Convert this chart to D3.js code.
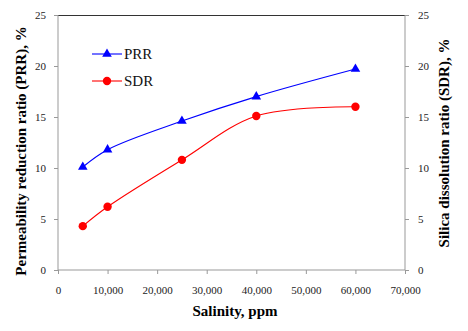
<!DOCTYPE html>
<html>
<head>
<meta charset="utf-8">
<script src="https://cdn.jsdelivr.net/npm/d3@7"></script>
<style>
  body { margin: 0; background: #fff; }
</style>
</head>
<body>
<div id="canvas"></div>
<script>
"use strict";

/**** DATA ****/
let salinity = [5000, 10000, 25000, 40000, 60000];
let prrValues = [10.1, 11.8, 14.6, 17.0, 19.7];
let sdrValues = [4.3, 6.2, 10.8, 15.1, 16.0];
let xTicks = [0, 10000, 20000, 30000, 40000, 50000, 60000, 70000];
let yTicks = [0, 5, 10, 15, 20, 25];

/**** LAYOUT ****/
let svgWidth = 468;
let svgHeight = 331;
let leftMargin = 58;
let rightEdge = 405;
let topMargin = 15;
let bottomEdge = 270;
let serif = "'Liberation Serif', 'Times New Roman', serif";

let svg = d3.select("#canvas")
    .append("svg")
    .attr("width", svgWidth)
    .attr("height", svgHeight)
    .style("font-family", serif);

/**** SCALES ****/
let xScale = d3.scaleLinear().domain([0, 70000]).range([leftMargin, rightEdge]);
let yScale = d3.scaleLinear().domain([0, 25]).range([bottomEdge, topMargin]);

/**** FRAME ****/
svg.append("line")
    .attr("x1", leftMargin).attr("x2", rightEdge)
    .attr("y1", topMargin + 0.5).attr("y2", topMargin + 0.5)
    .attr("stroke", "#333");

/**** AXES ****/
let fmt = d3.format(",");

let xAxis = svg.append("g")
    .attr("transform", `translate(0,${bottomEdge})`)
    .call(d3.axisBottom(xScale).tickValues(xTicks).tickFormat(fmt).tickSize(4).tickPadding(12));

let leftAxis = svg.append("g")
    .attr("transform", `translate(${leftMargin},0)`)
    .call(d3.axisLeft(yScale).tickValues(yTicks).tickSize(4).tickPadding(8));

let rightAxis = svg.append("g")
    .attr("transform", `translate(${rightEdge},0)`)
    .call(d3.axisRight(yScale).tickValues(yTicks).tickSize(4).tickPadding(9));

[xAxis, leftAxis, rightAxis].forEach(function(g) {
    g.attr("font-family", serif).attr("font-size", 11);
    g.select(".domain").attr("stroke", "#999");
    g.selectAll(".tick line").attr("stroke", "#999");
    g.selectAll(".tick text")
        .attr("fill", "#222")
        .style("font-family", serif)
        .style("font-size", "11px");
});
xAxis.select(".domain").attr("d", `M${leftMargin},0H${rightEdge}`);
leftAxis.select(".domain").attr("d", `M0,${bottomEdge}V${topMargin}`);
rightAxis.select(".domain").attr("d", `M0,${bottomEdge}V${topMargin}`);

/**** SERIES ****/
let series = [
    { name: "PRR", values: prrValues, color: "#0000ff", marker: d3.symbolTriangle, size: 40 },
    { name: "SDR", values: sdrValues, color: "#ff0000", marker: d3.symbolCircle, size: 55 }
];

let line = d3.line()
    .x(function(d) { return xScale(d[0]); })
    .y(function(d) { return yScale(d[1]); })
    .curve(d3.curveCatmullRom.alpha(0.5));

series.forEach(function(s) {
    let pts = salinity.map(function(x, i) { return [x, s.values[i]]; });

    svg.append("path")
        .datum(pts)
        .attr("d", line)
        .attr("fill", "none")
        .attr("stroke", s.color)
        .attr("stroke-width", 1.1);

    svg.selectAll(null)
        .data(pts)
        .join("path")
        .attr("transform", function(d) { return `translate(${xScale(d[0])},${yScale(d[1])})`; })
        .attr("d", d3.symbol().type(s.marker).size(s.size))
        .attr("fill", s.color);
});

/**** LEGEND ****/
let legendX = 92;
let legendY = 54;
series.forEach(function(s, i) {
    let y = legendY + i * 27;
    svg.append("line")
        .attr("x1", legendX).attr("x2", legendX + 30)
        .attr("y1", y).attr("y2", y)
        .attr("stroke", s.color)
        .attr("stroke-width", 1.1);
    svg.append("path")
        .attr("transform", `translate(${legendX + 15},${y})`)
        .attr("d", d3.symbol().type(s.marker).size(s.size))
        .attr("fill", s.color);
    svg.append("text")
        .attr("x", legendX + 32)
        .attr("y", y + 5)
        .style("font-family", serif)
        .style("font-size", "15px")
        .attr("fill", "#111")
        .text(s.name);
});

/**** AXIS TITLES ****/
svg.append("text")
    .attr("x", 235)
    .attr("y", 316)
    .attr("text-anchor", "middle")
    .style("font-family", serif)
    .style("font-size", "15px")
    .style("font-weight", "bold")
    .text("Salinity, ppm");

svg.append("text")
    .attr("transform", `translate(26,151) rotate(-90)`)
    .attr("text-anchor", "middle")
    .style("font-family", serif)
    .style("font-size", "15px")
    .style("font-weight", "bold")
    .text("Permeability reduction ratio (PRR), %");

svg.append("text")
    .attr("transform", `translate(449,143) rotate(-90)`)
    .attr("text-anchor", "middle")
    .style("font-family", serif)
    .style("font-size", "15px")
    .style("font-weight", "bold")
    .text("Silica dissolution ratio (SDR), %");
</script>
</body>
</html>
